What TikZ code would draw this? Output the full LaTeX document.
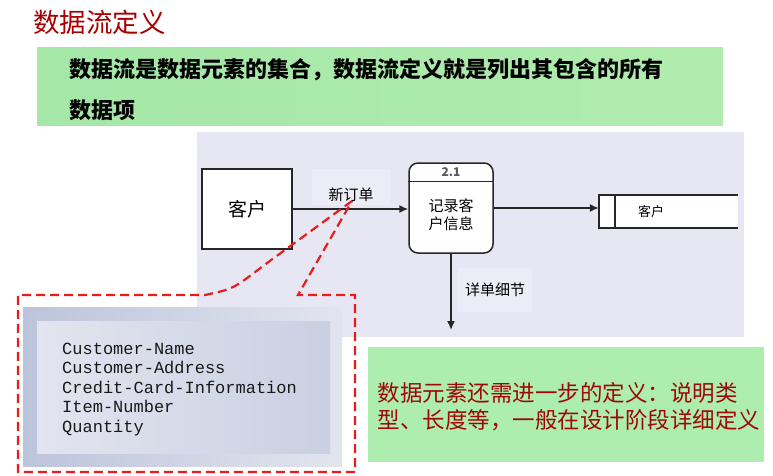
\documentclass[tikz,border=0pt]{standalone}
\usepackage{fontspec}
\usetikzlibrary{calc,arrows.meta}
\newfontfamily\cjk{Noto Sans CJK SC}
\newfontfamily\fieldfont{Liberation Mono}
\definecolor{titlered}{HTML}{A80000}
\definecolor{notered}{HTML}{A00808}
\definecolor{greenleft}{HTML}{A4E7A7}
\definecolor{greenright}{HTML}{B0ECAE}
\definecolor{notegreen}{HTML}{ADEDAD}
\definecolor{dfdbg}{HTML}{E7E7F3}
\definecolor{labelbg}{HTML}{ECECF7}
\definecolor{paneldark}{HTML}{BCC4DB}
\definecolor{panellight}{HTML}{E2E5EF}
\definecolor{callred}{HTML}{E81C1C}

\begin{document}
\begin{tikzpicture}[x=1pt,y=-1pt,
    flowline/.style={-{Latex[length=9pt,width=8pt]},line width=1.5pt,black!85},
    dfdbox/.style={draw=black!85,line width=1.5pt,fill=white},
    dfdtext/.style={font=\cjk\fontsize{15}{18}\selectfont,align=center},
    deftext/.style={font=\cjk\bfseries\fontsize{22}{22}\selectfont,anchor=west},
    notetext/.style={font=\cjk\fontsize{22.5}{22.5}\selectfont,text=notered,anchor=west},
    fieldtext/.style={font=\fieldfont\fontsize{17}{17}\selectfont,text=black!90,anchor=base west,inner sep=0},
    calloutline/.style={callred,line width=2.2pt,dash pattern=on 9pt off 5pt}]
    \useasboundingbox (0,0) rectangle (773,476);
    \fill[white] (0,0) rectangle (773,476);

    % title and definition
    \node[anchor=west,font=\cjk\fontsize{26.5}{26.5}\selectfont,text=titlered,inner sep=0] (title) at (33,22) {数据流定义};
    \shade[left color=greenleft,right color=greenright] (37,48) rectangle (723,126);
    \node[deftext] (def1) at (66,70) {数据流是数据元素的集合，数据流定义就是列出其包含的所有};
    \node[deftext] (def2) at (66,110) {数据项};

    % data flow diagram
    \fill[dfdbg] (197,132) rectangle (744,337);
    \node[dfdtext,fill=labelbg,minimum width=78pt,minimum height=36pt] (neworder) at (351,187) {};
    \node[dfdtext] at (351,195) {新订单};
    \node[dfdtext,fill=labelbg,minimum width=74pt,minimum height=44pt] (detail) at (495,290) {详单细节};

    \node[dfdbox,minimum width=90pt,minimum height=80pt,font=\cjk\fontsize{19}{19}\selectfont] (cust) at (247,209) {客户};

    \node[dfdbox,rounded corners=9pt,minimum width=84pt,minimum height=90pt,inner sep=0] (proc) at (451,208) {};
    \draw[black!85,line width=1.5pt] ($(proc.north west)+(0,19)$) -- ($(proc.north east)+(0,19)$);
    \node[font=\cjk\bfseries\fontsize{12}{12}\selectfont,text=black!65] (procid) at ($(proc.north)+(0,10)$) {2.1};
    \node[dfdtext] (procname) at ($(proc.center)+(0,7)$) {记录客\\户信息};

    \node[minimum width=139pt,minimum height=33pt,inner sep=0] (store) at (668.5,211.5) {};
    \fill[white] (store.north west) rectangle (store.south east);
    \draw[black!85,line width=1.5pt] (store.north east) -- (store.north west) -- (store.south west) -- (store.south east);
    \draw[black!85,line width=1.5pt] ($(store.north west)+(16,0)$) -- ($(store.south west)+(16,0)$);
    \node[font=\cjk\fontsize{13}{13}\selectfont] (storename) at (651,212) {客户};

    \coordinate (detailend) at (451,330);
    \draw[flowline] (cust.east) -- (cust.east -| proc.west);
    \draw[flowline] (proc.east) -- (proc.east -| store.west);
    \draw[flowline] (proc.south) -- (detailend);

    % data items
    \shade[left color=paneldark,right color=panellight] (23,307) rectangle (342,466);
    \shade[left color=panellight,right color=paneldark!80!white] (37,321) rectangle (330,453);
    \foreach \field [count=\i] in {Customer-Name,Customer-Address,Credit-Card-Information,Item-Number,Quantity}
        \node[fieldtext] (field\i) at (62,334.5+19.5*\i) {\field};

    \coordinate (tip) at (352,201);
    \draw[calloutline] (tip) -- (263,266) .. controls (233,289) .. (205,295) -- (18,295) -- (18,472) -- (355,472) -- (355,295) -- (298,295) -- (tip);

    % note
    \fill[notegreen] (368,347) rectangle (764,462);
    \node[notetext] (note1) at (374,393) {数据元素还需进一步的定义：说明类};
    \node[notetext] (note2) at (374,420) {型、长度等，一般在设计阶段详细定义};
\end{tikzpicture}
\end{document}
